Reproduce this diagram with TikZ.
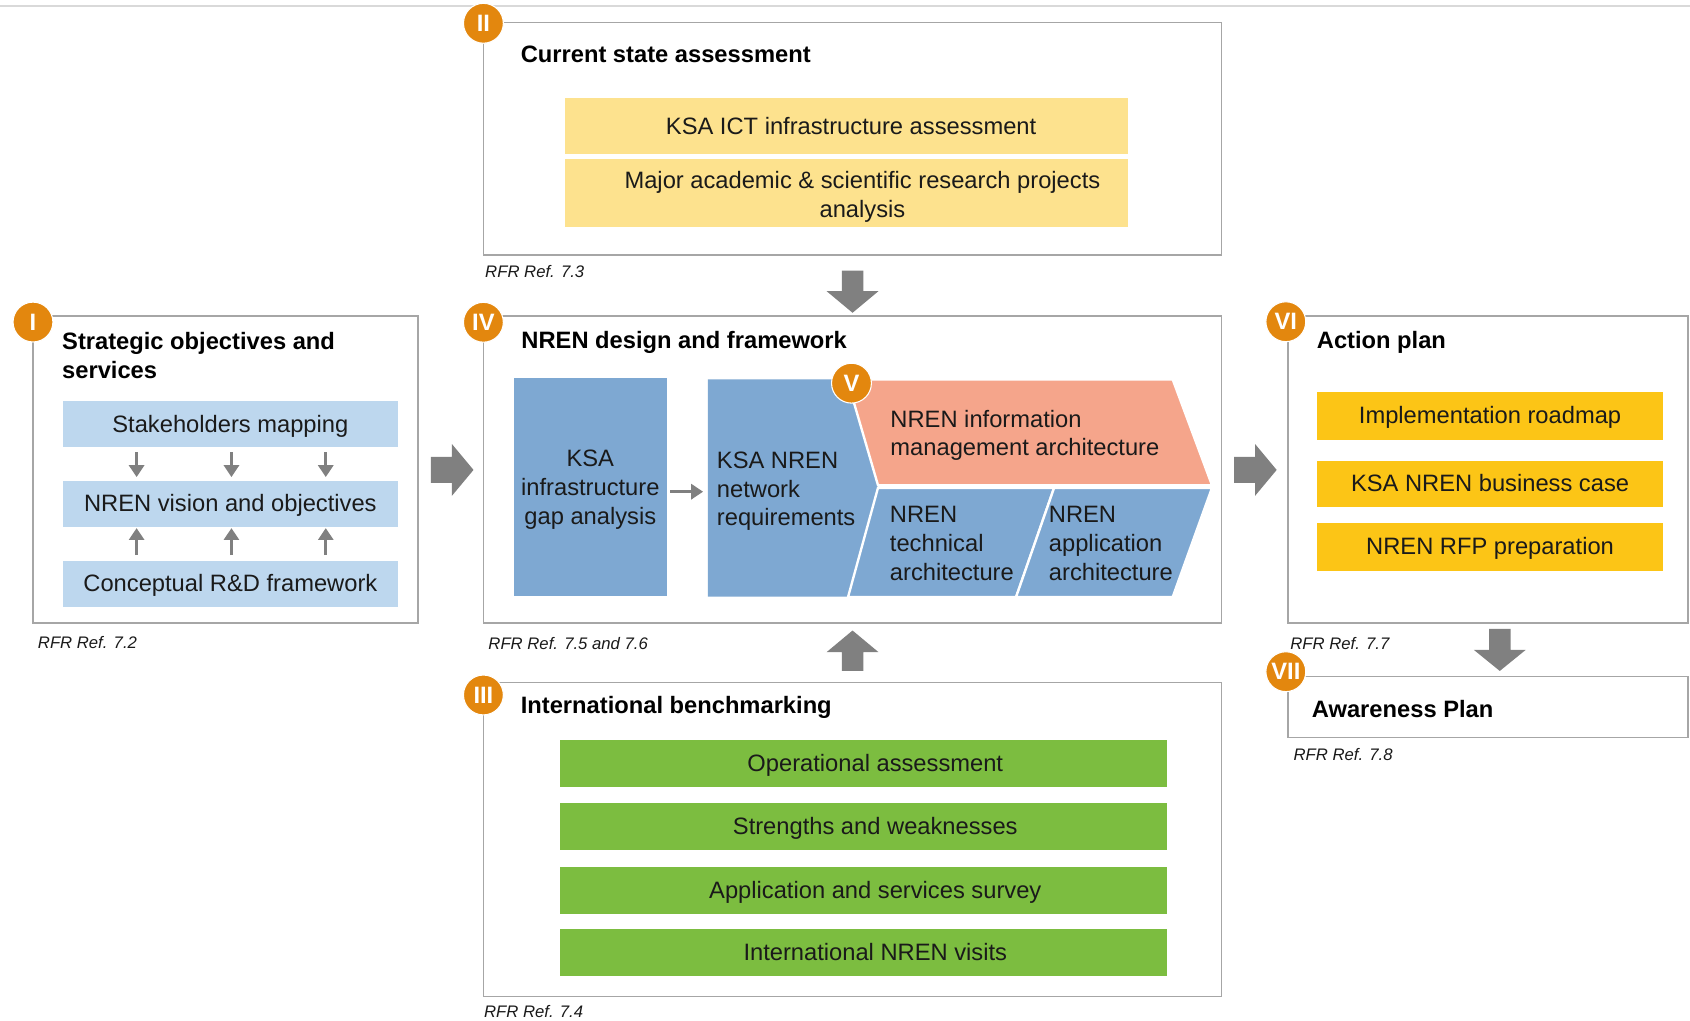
\documentclass[tikz,border=0pt]{standalone}
\usepackage{fontspec}
\setmainfont{Liberation Sans}
\usetikzlibrary{arrows.meta,calc}
\definecolor{framegray}{HTML}{A6A6A6}
\definecolor{arrowgray}{HTML}{808080}
\definecolor{topline}{HTML}{D9D9D9}
\definecolor{badgeorange}{HTML}{E3870E}
\definecolor{lightblue}{HTML}{BDD7EE}
\definecolor{midblue}{HTML}{7EA8D2}
\definecolor{salmon}{HTML}{F5A58B}
\definecolor{paleyellow}{HTML}{FDE28E}
\definecolor{leafgreen}{HTML}{7CBD40}
\definecolor{gold}{HTML}{FCC516}
\definecolor{txt}{HTML}{1A1A1A}
\begin{document}
\begin{tikzpicture}[x=1pt,y=-1pt,
 frame/.style={draw=framegray, line width=1.3pt, fill=white, inner sep=0pt, outer sep=0pt, anchor=north west},
 badge/.style={circle, fill=badgeorange, draw=white, line width=1pt, text=white, font=\bfseries\fontsize{22}{24}\selectfont, minimum size=37pt, inner sep=0pt},
 title/.style={anchor=west, inner sep=0pt, align=left, font=\bfseries\fontsize{22}{27.5}\selectfont, text=black},
 ref/.style={anchor=west, inner sep=0pt, font=\itshape\fontsize{15.5}{18}\selectfont, text=txt},
 cell/.style={inner sep=0pt, outer sep=0pt, font=\fontsize{22}{26.5}\selectfont, text=txt, align=center},
 one/.style={text height=17pt, text depth=2pt},
 plain/.style={inner sep=0pt, font=\fontsize{22}{26.5}\selectfont, text=txt},
 sarrow/.style={draw=arrowgray, line width=2.5pt, -{Triangle[length=11pt,width=14pt]}},
 bigarrow/.style={fill=arrowgray},
 shapeline/.style={draw=white, line width=2.2pt, line join=miter}
]
\useasboundingbox (0,0) rectangle (1568,947);
\fill[white] (0,0) rectangle (1568,947);
\draw[topline, line width=1.5pt] (0,5.5) -- (1568,5.5);

% ---------- frames ----------
\node[frame, minimum width=357.2, minimum height=285] (I) at (30.6,293) {};
\node[frame, minimum width=685, minimum height=216] (II) at (448.5,20.7) {};
\node[frame, minimum width=685, minimum height=285] (IV) at (448.5,293) {};
\node[frame, minimum width=685, minimum height=291.7] (III) at (448.5,633) {};
\node[frame, minimum width=371, minimum height=285] (VI) at (1195,293) {};
\node[frame, minimum width=371, minimum height=56.2] (VII) at (1195,627.8) {};

% ---------- big arrows ----------
\fill[bigarrow] ([shift={(12,-11.5)}]I.east) -- ++(19.5,0) -- ++(0,-12) -- ++(20,24) -- ++(-20,24) -- ++(0,-12) -- ++(-19.5,0) -- cycle;
\fill[bigarrow] ([shift={(11.5,-11.5)}]IV.east) -- ++(19.5,0) -- ++(0,-12) -- ++(20,24) -- ++(-20,24) -- ++(0,-12) -- ++(-19.5,0) -- cycle;
\fill[bigarrow] ([shift={(-10,14.5)}]II.south) -- ++(0,19) -- ++(-14,0) -- ++(24,20) -- ++(24,-20) -- ++(-14,0) -- ++(0,-19) -- cycle;
\fill[bigarrow] ([shift={(-10,-10.5)}]III.north) -- ++(0,-17.5) -- ++(-14,0) -- ++(24,-20) -- ++(24,20) -- ++(-14,0) -- ++(0,17.5) -- cycle;
\fill[bigarrow] ([shift={(1,5.5)}]VI.south) -- ++(0,19.5) -- ++(-14,0) -- ++(24,19.5) -- ++(24,-19.5) -- ++(-14,0) -- ++(0,-19.5) -- cycle;

% ---------- titles ----------
\node[title] (tI) at (57.5,330) {Strategic objectives and\\services};
\node[title] (tII) at (483,50.5) {Current state assessment};
\node[title] (tIV) at (483.6,318) {NREN design and framework};
\node[title] (tIII) at (483,656.7) {International benchmarking};
\node[title] (tVI) at (1221.6,318) {Action plan};
\node[title] (tVII) at (1217,657.7) {Awareness Plan};

% ---------- box I ----------
\node[cell, one, fill=lightblue, minimum width=310.5, minimum height=42.7] (sm) at (213.75,393.35) {Stakeholders mapping};
\node[cell, one, fill=lightblue, minimum width=310.5, minimum height=43] (vis) at (213.75,467.5) {NREN vision and objectives};
\node[cell, one, fill=lightblue, minimum width=310.5, minimum height=42.5] (conc) at (213.75,541.75) {Conceptual R\&D framework};
\foreach \dx in {-87,1,88.5}{
  \draw[sarrow, shorten <=4.7pt, shorten >=3.4pt] ([xshift=\dx pt]sm.south) -- ([xshift=\dx pt]vis.north);
  \draw[sarrow, shorten <=5.5pt, shorten >=1pt] ([xshift=\dx pt]conc.north) -- ([xshift=\dx pt]vis.south);
}

% ---------- box II ----------
\node[cell, one, fill=paleyellow, minimum width=522, minimum height=51.7] (ict) at (785.65,117) {\hspace*{8pt}KSA ICT infrastructure assessment};
\node[cell, fill=paleyellow, minimum width=522, minimum height=63.2] (maj) at (785.65,179.4) {};
\node[plain, align=center] (majt) at (800.15,182.5) {Major academic \& scientific research projects\\analysis};

% ---------- box III ----------
\node[cell, one, fill=leafgreen, minimum width=563.2, minimum height=43.5] (op) at (801.6,708.2) {\hspace*{21pt}Operational assessment};
\node[cell, one, fill=leafgreen, minimum width=563.2, minimum height=44] (sw) at (801.6,767) {\hspace*{21pt}Strengths and weaknesses};
\node[cell, one, fill=leafgreen, minimum width=563.2, minimum height=43.5] (as) at (801.6,825.8) {\hspace*{21pt}Application and services survey};
\node[cell, one, fill=leafgreen, minimum width=563.2, minimum height=43] (iv) at (801.6,883.6) {\hspace*{21pt}International NREN visits};

% ---------- box VI ----------
\node[cell, one, fill=gold, minimum width=321, minimum height=44.8] (ir) at (1382.5,385.8) {Implementation roadmap};
\node[cell, one, fill=gold, minimum width=321, minimum height=42.6] (bc) at (1382.5,448.7) {KSA NREN business case};
\node[cell, one, fill=gold, minimum width=321, minimum height=44.5] (rfp) at (1382.5,507.3) {NREN RFP preparation};

% ---------- box IV content ----------
\node[fill=midblue, inner sep=0pt, minimum width=141.6, minimum height=202.6] (gap) at (547.7,451.7) {};
\node[plain, align=center, font=\fontsize{22}{27}\selectfont] (gapt) at (547.7,454.5) {KSA\\infrastructure\\gap analysis};
\coordinate (nrA) at (656.7,352);
\coordinate (nrB) at (786,352);
\coordinate (nrC) at (814.6,451.3);
\coordinate (nrD) at (786.8,553.6);
\coordinate (nrE) at (656.7,553.6);
\fill[midblue] (nrA) -- (nrB) -- (nrC) -- (nrD) -- (nrE) -- cycle;
\coordinate (nrIn) at (656.7,456.2);
\draw[sarrow, shorten <=3.2pt, shorten >=4.4pt] (gap.east |- nrIn) -- (nrIn);
\filldraw[fill=salmon, shapeline] (786,352) -- (1088,352) -- (1124.5,450.2) -- (814.6,450.2) -- cycle;
\filldraw[fill=midblue, shapeline] (814.6,452.6) -- (978,452.6) -- (942.7,554) -- (786.8,554) -- cycle;
\filldraw[fill=midblue, shapeline] (978,452.6) -- (1124.5,452.6) -- (1088,554) -- (942.7,554) -- cycle;
\node[plain, anchor=west, align=left] (nr) at (665,456) {KSA NREN\\network\\requirements};
\node[plain, anchor=west, align=left] (ima) at (826,404) {NREN information\\management architecture};
\node[plain, anchor=west, align=left] (ta) at (825.5,504.2) {NREN\\technical\\architecture};
\node[plain, anchor=west, align=left] (aa) at (973,504.2) {NREN\\application\\architecture};

% ---------- references ----------
\node[ref] (r72) at (35,595.7) {RFR Ref. 7.2};
\node[ref] (r73) at (450,252) {RFR Ref. 7.3};
\node[ref] (r756) at (453,597) {RFR Ref. 7.5 and 7.6};
\node[ref] (r74) at (449,938.7) {RFR Ref. 7.4};
\node[ref] (r77) at (1197,597) {RFR Ref. 7.7};
\node[ref] (r78) at (1200,700.5) {RFR Ref. 7.8};

% ---------- badges ----------
\node[badge] (bI) at (30.6,298.8) {I};
\node[badge] (bII) at (448.5,21.6) {II};
\node[badge] (bIII) at (448.5,644.8) {III};
\node[badge] (bIV) at (448.5,299) {IV};
\node[badge] (bV) at (790,355.5) {V};
\node[badge] (bVI) at (1193,298.5) {VI};
\node[badge] (bVII) at (1193,623.2) {VII};
\end{tikzpicture}
\end{document}
